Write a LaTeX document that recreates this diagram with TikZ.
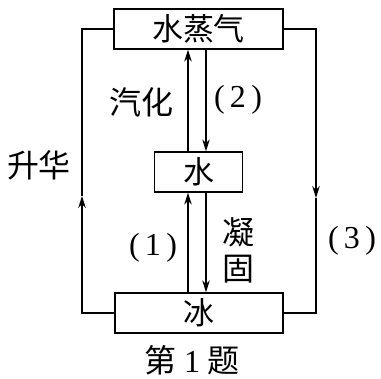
\documentclass[tikz,border=0pt]{standalone}
\usepackage{fontspec}
\setmainfont{Liberation Serif}
\newfontfamily\cjk{Noto Sans CJK SC}
\usetikzlibrary{arrows.meta,positioning}
\tikzset{
  box/.style={draw, line width=1.3pt, minimum width=#1, minimum height=40pt, inner sep=0pt, font=\cjk\fontsize{31}{31}\selectfont},
  arr/.style={line width=1.2pt, -{Stealth[length=12pt,width=7.5pt]}},
  ln/.style={line width=1.2pt},
  lab/.style={font=\cjk\fontsize{32}{36}\selectfont, inner sep=0pt},
  num/.style={font=\fontsize{32}{36}\selectfont, inner sep=0pt}
}
\begin{document}
\begin{tikzpicture}[x=1pt,y=-1pt]
    \useasboundingbox (0,0) rectangle (381,379);
    % boxes
    \node[box=169pt] (vapor) at (198.5,29) {水蒸气};
    \node[box=88pt] (water) at (198.5,172) {水};
    \node[box=168pt] (ice) at (199,313) {冰};
    % side connectors
    \coordinate (lmid) at (82,196);
    \coordinate (rmid) at (316,198);
    \draw[arr] (ice.west) -| (lmid);
    \draw[ln] (lmid) |- (vapor.west);
    \draw[arr] (vapor.east) -| (rmid);
    \draw[ln] (rmid) |- (ice.east);
    % middle arrows
    \draw[arr] ([xshift=-10.5pt]water.north) -- ([xshift=-10.5pt]water.north |- vapor.south);
    \draw[arr] ([xshift=7.5pt]water.north |- vapor.south) -- ([xshift=7.5pt]water.north);
    \draw[arr] ([xshift=-10.5pt]water.south |- ice.north) -- ([xshift=-10.5pt]water.south);
    \draw[arr] ([xshift=7.5pt]water.south) -- ([xshift=7.5pt]water.south |- ice.north);
    % labels
    \node[lab] (vap) at (142,102) {汽化};
    \node[num] (two) at (238,100) {(\,2\,)};
    \node[lab] (subl) at (39,165) {升华};
    \node[num] (one) at (153,248) {(\,1\,)};
    \node[lab, align=center] (freeze) at (238,250) {凝\\固};
    \node[num] (three) at (352,241) {(\,3\,)};
    \node[lab] (cap) at (192,360) {第 {\rmfamily 1} 题};
\end{tikzpicture}
\end{document}
